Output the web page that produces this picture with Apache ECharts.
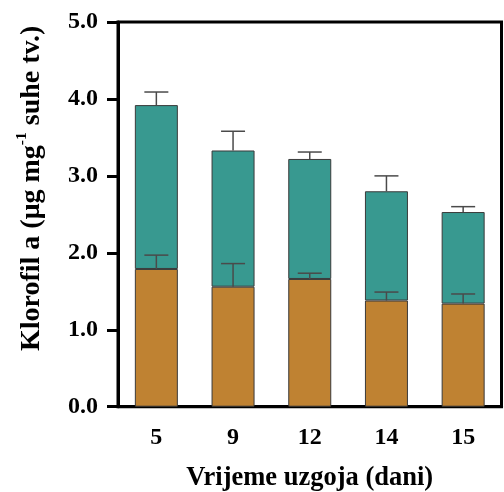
<!DOCTYPE html>
<html>
<head>
<meta charset="utf-8">
<script src="https://cdn.jsdelivr.net/npm/echarts@6/dist/echarts.min.js"></script>
<style>html,body{margin:0;padding:0;background:#fff;overflow:hidden;}#c{width:504px;height:492px;}</style>
</head>
<body>
<div id="c"></div>
<script>
const categories = ['5', '9', '12', '14', '15'];
const lowerVals = [1.79, 1.56, 1.66, 1.38, 1.34];
const upperVals = [2.13, 1.77, 1.56, 1.42, 1.19];
const lowerErr = [0.18, 0.30, 0.075, 0.11, 0.125];
const upperErr = [0.17, 0.25, 0.09, 0.20, 0.07];
const letters = ['a', 'b', 'a,b', 'a,b', 'a,b'];
const yTicks = [0, 1, 2, 3, 4, 5];

const totals = lowerVals.map((v, i) => v + upperVals[i]);
const FONT = '"Liberation Serif", "Times New Roman", serif';

function errItem(params, api) {
  const x = api.value(0);
  const base = api.value(1);
  const err = api.value(2);
  const p0 = api.coord([x, base]);
  const p1 = api.coord([x, base + err]);
  const half = 12;
  const style = { stroke: '#4a4a4a', lineWidth: 1.5 };
  return {
    type: 'group',
    children: [
      { type: 'line', shape: { x1: p0[0], y1: p0[1], x2: p1[0], y2: p1[1] }, style },
      { type: 'line', shape: { x1: p1[0] - half, y1: p1[1], x2: p1[0] + half, y2: p1[1] }, style }
    ]
  };
}

const chart = echarts.init(document.getElementById('c'), null, { width: 504, height: 492 });
chart.setOption({
  animation: false,
  backgroundColor: '#fff',
  grid: { left: 118, width: 383.5, top: 22, height: 384.7, outerBoundsMode: 'none', containLabel: false,
    show: true, borderColor: '#000', borderWidth: 3, backgroundColor: 'transparent' },
  xAxis: {
    type: 'category',
    data: categories,
    axisLine: { lineStyle: { color: '#000', width: 3 } },
    axisTick: { alignWithLabel: true, length: 11, lineStyle: { color: '#000', width: 3 } },
    axisLabel: { color: '#000', fontFamily: FONT, fontWeight: 'bold', fontSize: 24, margin: 19 },
    name: 'Vrijeme uzgoja (dani)',
    nameLocation: 'middle',
    nameGap: 58,
    nameTextStyle: { color: '#000', fontFamily: FONT, fontWeight: 'bold', fontSize: 26.5 }
  },
  yAxis: {
    type: 'value',
    min: 0, max: 5, interval: 1,
    splitLine: { show: false },
    axisLine: { show: true, lineStyle: { color: '#000', width: 3 } },
    axisTick: { show: true, length: 11, lineStyle: { color: '#000', width: 3 } },
    axisLabel: { color: '#000', fontFamily: FONT, fontWeight: 'bold', fontSize: 24, margin: 20,
      formatter: v => yTicks.includes(v) ? v.toFixed(1) : '' },
    name: '{b|Klorofil a (μg mg}{s|-1}{b| suhe tv.)}',
    nameLocation: 'middle',
    nameGap: 72,
    nameRotate: 90,
    nameTextStyle: {
      padding: [0, 0, 0, 52],
      rich: {
        b: { color: '#000', fontFamily: FONT, fontWeight: 'bold', fontSize: 28, lineHeight: 32, verticalAlign: 'bottom' },
        s: { color: '#000', fontFamily: FONT, fontWeight: 'bold', fontSize: 15.5, lineHeight: 32, verticalAlign: 'top', padding: [0, 0, 10, 0] }
      }
    }
  },
  series: [
    {
      type: 'bar', stack: 'k', data: lowerVals, barWidth: 43,
      itemStyle: { color: '#bf8232', borderColor: '#3a3a3a', borderWidth: 1 }
    },
    {
      type: 'bar', stack: 'k', data: upperVals, barWidth: 43,
      itemStyle: { color: '#389990', borderColor: '#3a3a3a', borderWidth: 1 }
    },
    {
      type: 'custom', renderItem: errItem, z: 5,
      data: lowerVals.map((v, i) => [i, v, lowerErr[i]])
    },
    {
      type: 'custom', renderItem: errItem, z: 5,
      data: totals.map((v, i) => [i, v, upperErr[i]]),
      label: {
        show: true, position: 'top', distance: 0,
        formatter: p => letters[p.dataIndex],
        color: '#222', fontFamily: FONT, fontSize: 19,
        offset: [0, -8]
      }
    }
  ]
});
</script>
</body>
</html>
